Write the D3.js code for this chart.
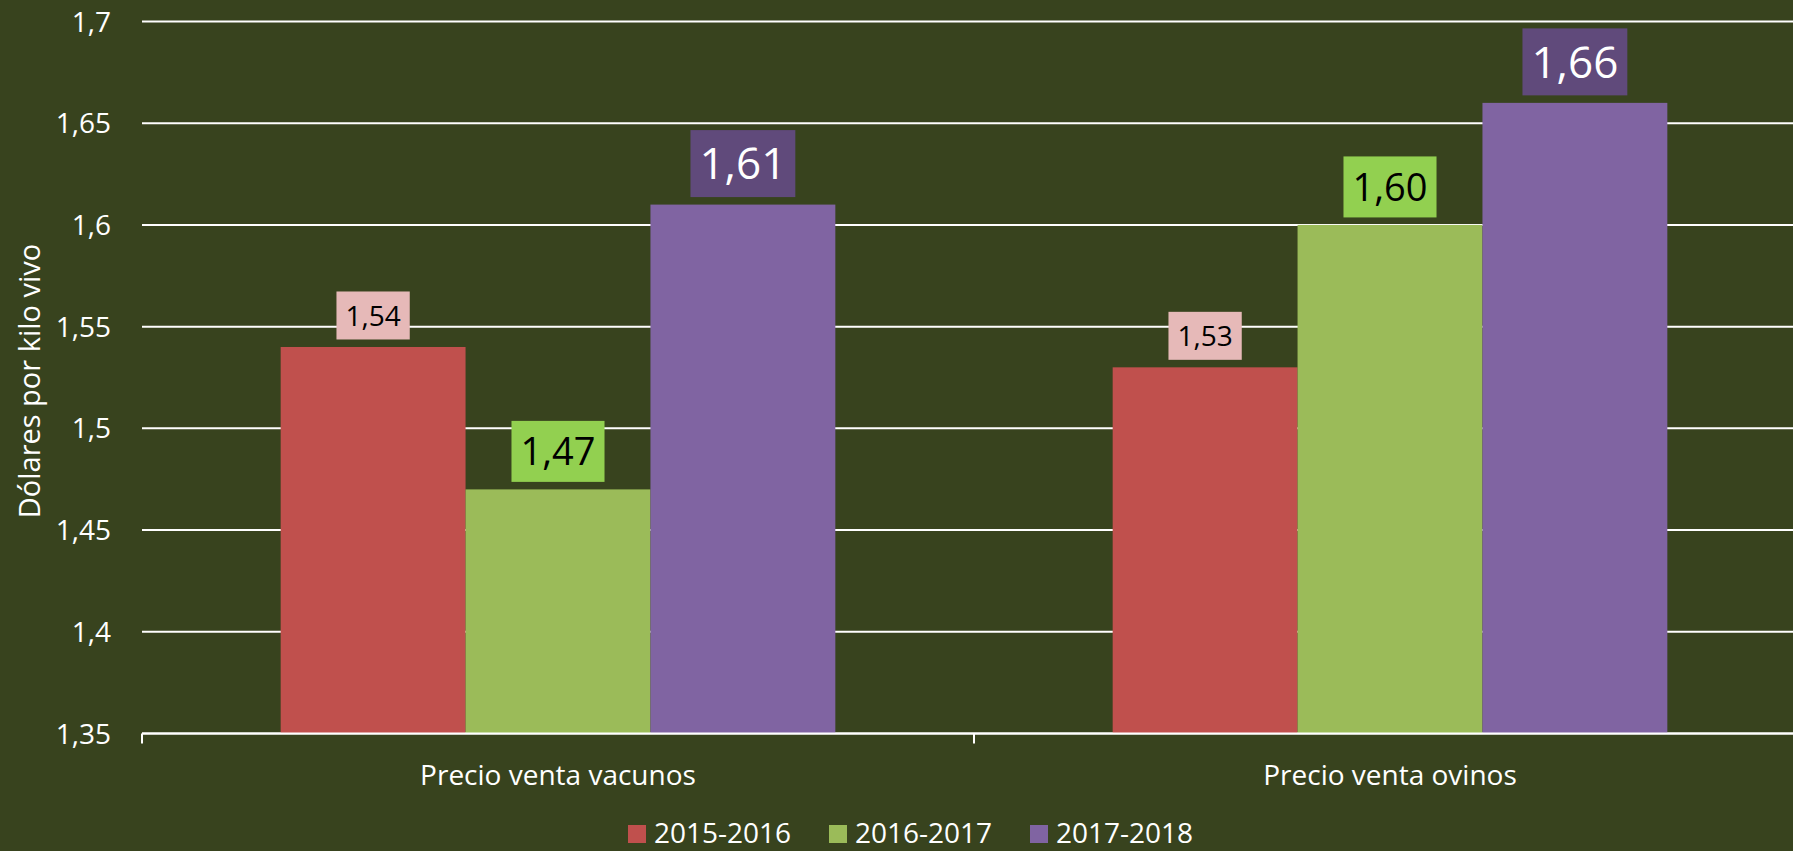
<!DOCTYPE html>
<html lang="es">
<head>
    <meta charset="UTF-8">
    <title>Precio venta vacunos y ovinos</title>
    <script src="https://d3js.org/d3.v7.min.js"></script>
    <style>
        body {
            margin: 0;
            padding: 0;
            background: #38431e;
            font-family: "Open Sans", sans-serif;
            overflow: hidden;
        }
        svg text {
            font-family: "Open Sans", sans-serif;
        }
    </style>
</head>
<body>
    <div id="chart"></div>
    <script>
        // Data
        const categories = ["Precio venta vacunos", "Precio venta ovinos"];
        const seasons = ["2015-2016", "2016-2017", "2017-2018"];
        const values2015 = [1.54, 1.53];
        const values2016 = [1.47, 1.60];
        const values2017 = [1.61, 1.66];
        const yTicks = [1.35, 1.4, 1.45, 1.5, 1.55, 1.6, 1.65, 1.7];
        const yTitle = "Dólares por kilo vivo";

        const seriesValues = [values2015, values2016, values2017];

        // Styles
        const barColors = ["#c0504d", "#9bbb59", "#8064a2"];
        const boxColors = ["#e6b9b8", "#92d050", "#604a7b"];
        const labelColors = ["#000000", "#000000", "#ffffff"];
        const labelFont = [28, 38, 44];
        const labelBoxH = [48, 61, 67];

        const width = 1793;
        const height = 851;
        const plot = { left: 142, right: 1806, top: 21.5, bottom: 733.5 };

        const locale = d3.formatLocale({ decimal: ",", thousands: ".", grouping: [3], currency: ["", ""] });
        const tickFmt = locale.format(".2~f");
        const labelFmt = locale.format(".2f");

        const svg = d3.select("#chart")
            .append("svg")
            .attr("width", width)
            .attr("height", height);

        const x0 = d3.scaleBand()
            .domain(categories)
            .range([plot.left, plot.right]);

        const x1 = d3.scaleBand()
            .domain(seasons)
            .range([0, x0.bandwidth()])
            .paddingInner(0)
            .paddingOuter(0.75);

        const y = d3.scaleLinear()
            .domain([1.35, 1.7])
            .range([plot.bottom, plot.top]);

        // Gridlines
        svg.append("g")
            .selectAll("line")
            .data(yTicks)
            .join("line")
            .attr("x1", plot.left)
            .attr("x2", width)
            .attr("y1", d => y(d))
            .attr("y2", d => y(d))
            .attr("stroke", "#ffffff")
            .attr("stroke-width", 2);

        // Y tick labels
        svg.append("g")
            .selectAll("text")
            .data(yTicks)
            .join("text")
            .attr("x", 111)
            .attr("y", d => y(d))
            .attr("dy", "0.36em")
            .attr("text-anchor", "end")
            .attr("fill", "#ffffff")
            .style("font-size", "28px")
            .text(d => tickFmt(d));

        // Y title
        svg.append("text")
            .attr("transform", "translate(39.5,381) rotate(-90)")
            .attr("text-anchor", "middle")
            .attr("fill", "#ffffff")
            .style("font-size", "29px")
            .text(yTitle);

        // Bars
        const rows = categories.map((c, i) => ({
            category: c,
            items: seasons.map((s, j) => ({ season: s, idx: j, value: seriesValues[j][i] }))
        }));

        const groups = svg.append("g")
            .selectAll("g")
            .data(rows)
            .join("g")
            .attr("transform", d => `translate(${x0(d.category)},0)`);

        groups.selectAll("rect")
            .data(d => d.items)
            .join("rect")
            .attr("x", d => x1(d.season))
            .attr("y", d => y(d.value))
            .attr("width", x1.bandwidth())
            .attr("height", d => y(1.35) - y(d.value))
            .attr("fill", d => barColors[d.idx]);

        // Data labels
        const labels = groups.selectAll("g.label")
            .data(d => d.items)
            .join("g")
            .attr("class", "label");

        labels.each(function(d) {
            const g = d3.select(this);
            const cx = x1(d.season) + x1.bandwidth() / 2;
            const boxH = labelBoxH[d.idx];
            const boxBottom = y(d.value) - 7.5;
            const rect = g.append("rect")
                .attr("fill", boxColors[d.idx]);
            const t = g.append("text")
                .attr("x", cx)
                .attr("y", boxBottom - boxH / 2)
                .attr("dy", "0.36em")
                .attr("text-anchor", "middle")
                .attr("fill", labelColors[d.idx])
                .style("font-size", labelFont[d.idx] + "px")
                .text(labelFmt(d.value));
            const w = t.node().getComputedTextLength() + 18;
            rect.attr("x", cx - w / 2)
                .attr("y", boxBottom - boxH)
                .attr("width", w)
                .attr("height", boxH);
        });

        // X axis line and ticks
        svg.append("line")
            .attr("x1", plot.left)
            .attr("x2", width)
            .attr("y1", y(1.35))
            .attr("y2", y(1.35))
            .attr("stroke", "#ffffff")
            .attr("stroke-width", 2);

        const tickXs = categories.map(c => x0(c)).concat([plot.right]);
        svg.append("g")
            .selectAll("line")
            .data(tickXs)
            .join("line")
            .attr("x1", d => d)
            .attr("x2", d => d)
            .attr("y1", y(1.35))
            .attr("y2", y(1.35) + 10)
            .attr("stroke", "#ffffff")
            .attr("stroke-width", 2);

        // Category labels
        svg.append("g")
            .selectAll("text")
            .data(categories)
            .join("text")
            .attr("x", d => x0(d) + x0.bandwidth() / 2)
            .attr("y", 785)
            .attr("text-anchor", "middle")
            .attr("fill", "#ffffff")
            .style("font-size", "28px")
            .text(d => d);

        // Legend
        const legend = svg.append("g")
            .selectAll("g")
            .data(seasons)
            .join("g")
            .attr("transform", (d, i) => `translate(${628 + i * 201},825)`);

        legend.append("rect")
            .attr("width", 18)
            .attr("height", 18)
            .attr("fill", (d, i) => barColors[i]);

        legend.append("text")
            .attr("x", 26)
            .attr("y", 18)
            .attr("fill", "#ffffff")
            .style("font-size", "28px")
            .text(d => d);
    </script>
</body>
</html>
